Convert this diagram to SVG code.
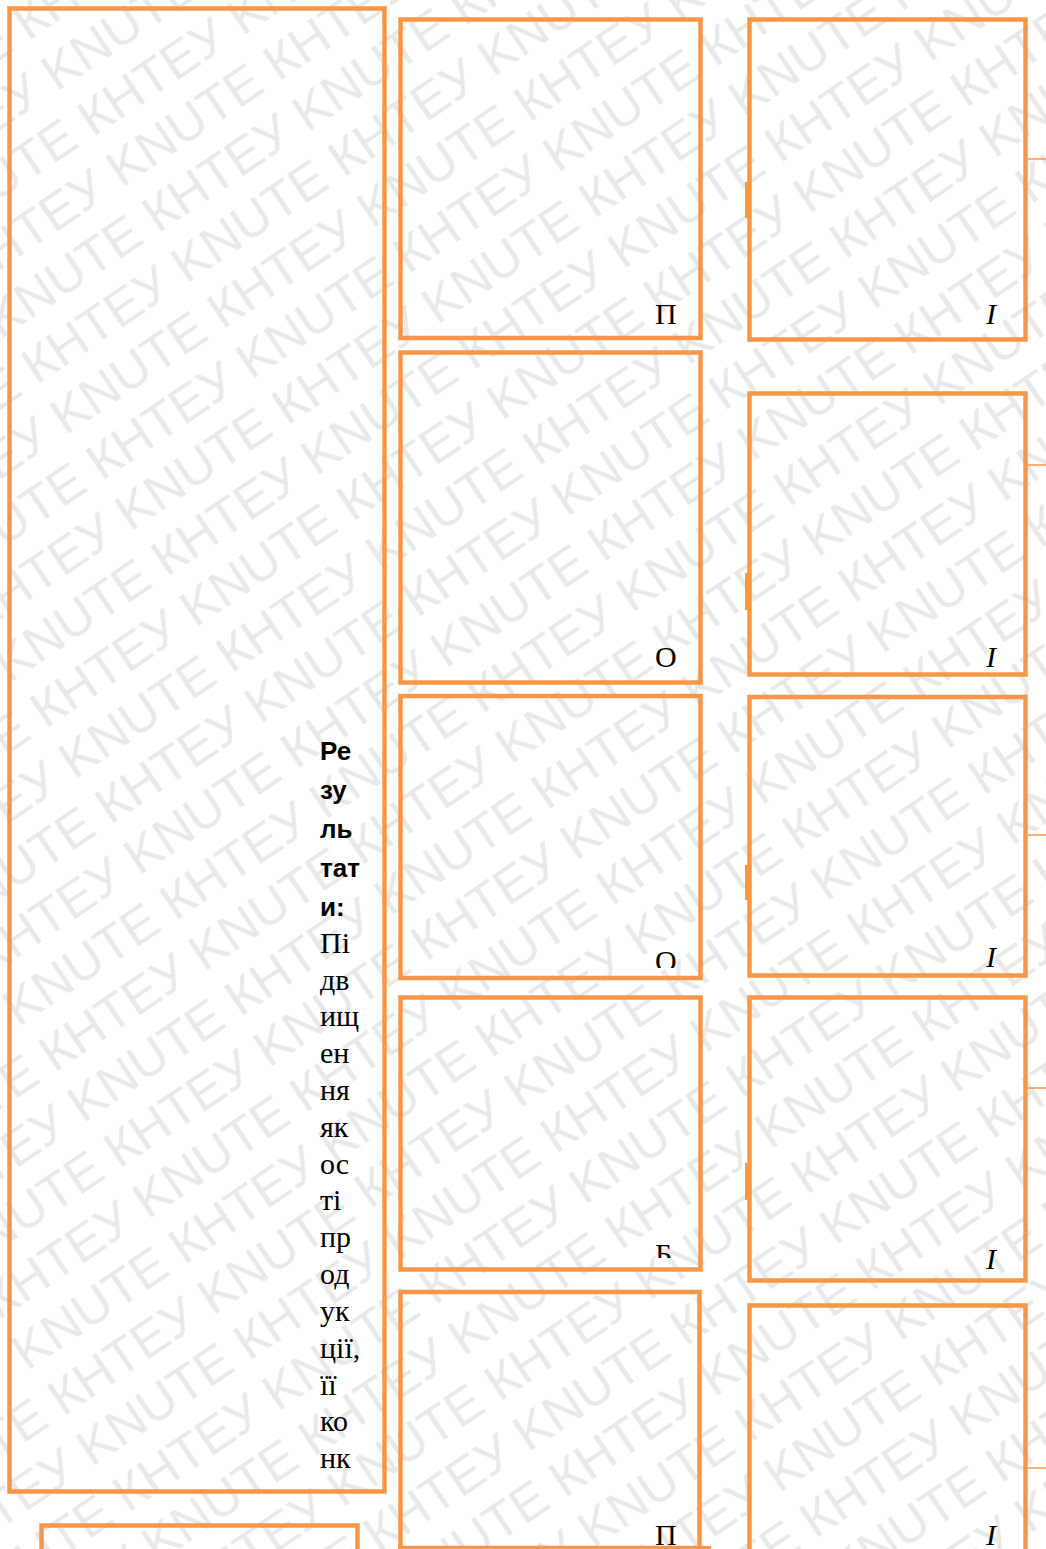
<svg xmlns="http://www.w3.org/2000/svg" width="1046" height="1549" viewBox="0 0 1046 1549">
<style>
.box{fill:none;stroke:#F79646;stroke-width:4.5}
.stub{stroke:#F79646;stroke-width:1.5;fill:none}
.tick{stroke:#F79646;stroke-width:3;fill:none}
.b{font-family:"Liberation Sans",Arial,sans-serif;font-weight:bold;font-size:26px;fill:#000}
.r{font-family:"Liberation Serif","Times New Roman",serif;font-size:30px;fill:#000}
.i{font-family:"Liberation Serif","Times New Roman",serif;font-size:30px;font-style:italic;fill:#000}
.wm{font-family:"Liberation Sans",Arial,sans-serif;font-size:50px;fill:#e8e8e8}
</style>
<defs>
<pattern id="wmp" patternUnits="userSpaceOnUse" width="370" height="116" patternTransform="rotate(-34)">
<text class="wm" x="0" y="50" textLength="370" lengthAdjust="spacingAndGlyphs">КНТЕУ&#160;KNUTE&#160;</text>
<text class="wm" x="185" y="108" textLength="370" lengthAdjust="spacingAndGlyphs">КНТЕУ&#160;KNUTE&#160;</text>
<text class="wm" x="-185" y="108" textLength="370" lengthAdjust="spacingAndGlyphs">КНТЕУ&#160;KNUTE&#160;</text>
</pattern>
<clipPath id="c3"><rect x="402" y="698" width="296" height="270"/></clipPath>
<clipPath id="c4"><rect x="402" y="1000" width="296" height="258"/></clipPath>
</defs>
<rect x="0" y="0" width="1046" height="1549" fill="#fff"/>
<rect x="0" y="0" width="1046" height="1549" fill="url(#wmp)"/>

<g id="left-main">
<rect class="box" x="9.5" y="8.5" width="375" height="1483"/>
<text class="b" x="320" y="760">Ре</text>
<text class="b" x="320" y="799">зу</text>
<text class="b" x="320" y="838">ль</text>
<text class="b" x="320" y="877">тат</text>
<text class="b" x="320" y="916">и:</text>
<text class="r" x="320" y="953">Пі</text>
<text class="r" x="320" y="990">дв</text>
<text class="r" x="320" y="1026">ищ</text>
<text class="r" x="320" y="1063">ен</text>
<text class="r" x="320" y="1100">ня</text>
<text class="r" x="320" y="1137">як</text>
<text class="r" x="320" y="1174">ос</text>
<text class="r" x="320" y="1210">ті</text>
<text class="r" x="320" y="1247">пр</text>
<text class="r" x="320" y="1284">од</text>
<text class="r" x="320" y="1321">ук</text>
<text class="r" x="320" y="1358">ції,</text>
<text class="r" x="320" y="1395">її</text>
<text class="r" x="320" y="1431">ко</text>
<text class="r" x="320" y="1468">нк</text>
</g>
<g id="left-bottom">
<rect class="box" x="41.5" y="1525.5" width="316" height="60"/>
</g>

<g id="c2-1"><rect class="box" x="400.5" y="19.5" width="300" height="318.5"/><text class="r" x="655" y="324">П</text></g>
<g id="c2-2"><rect class="box" x="400.5" y="352.5" width="300" height="330"/><text class="r" x="655" y="667">О</text></g>
<g id="c2-3"><rect class="box" x="400.5" y="696" width="300" height="282"/><text class="r" x="655" y="971" clip-path="url(#c3)">О</text></g>
<g id="c2-4"><rect class="box" x="400.5" y="997.5" width="300" height="272"/><text class="r" x="655" y="1264" clip-path="url(#c4)">Б</text></g>
<g id="c2-5"><rect class="box" x="400.5" y="1292" width="299" height="256"/><text class="r" x="655" y="1545">П</text></g>

<g id="c3-1"><rect class="box" x="749.5" y="19.5" width="276" height="320"/><text class="i" x="986" y="324">I</text></g>
<g id="c3-2"><rect class="box" x="749.5" y="393.5" width="276" height="281"/><text class="i" x="986" y="667">I</text></g>
<g id="c3-3"><rect class="box" x="749.5" y="697" width="276" height="278.5"/><text class="i" x="986" y="967">I</text></g>
<g id="c3-4"><rect class="box" x="749.5" y="997.5" width="276" height="283"/><text class="i" x="986" y="1269">I</text></g>
<g id="c3-5"><rect class="box" x="749.5" y="1305.5" width="276" height="280"/><text class="i" x="986" y="1545">I</text></g>

<g id="connectors">
<line class="stub" x1="1028" y1="159" x2="1046" y2="159"/>
<line class="stub" x1="1028" y1="465" x2="1046" y2="465"/>
<line class="stub" x1="1028" y1="835" x2="1046" y2="835"/>
<line class="stub" x1="1028" y1="1088" x2="1046" y2="1088"/>
<line class="stub" x1="1028" y1="1468" x2="1046" y2="1468"/>
<line class="tick" x1="746.5" y1="182" x2="746.5" y2="218"/>
<line class="tick" x1="746.5" y1="573" x2="746.5" y2="610"/>
<line class="tick" x1="746.5" y1="865" x2="746.5" y2="900"/>
<line class="tick" x1="746.5" y1="1163" x2="746.5" y2="1200"/>
<line class="tick" x1="398" y1="1547.5" x2="711" y2="1547.5"/>
</g>
</svg>
